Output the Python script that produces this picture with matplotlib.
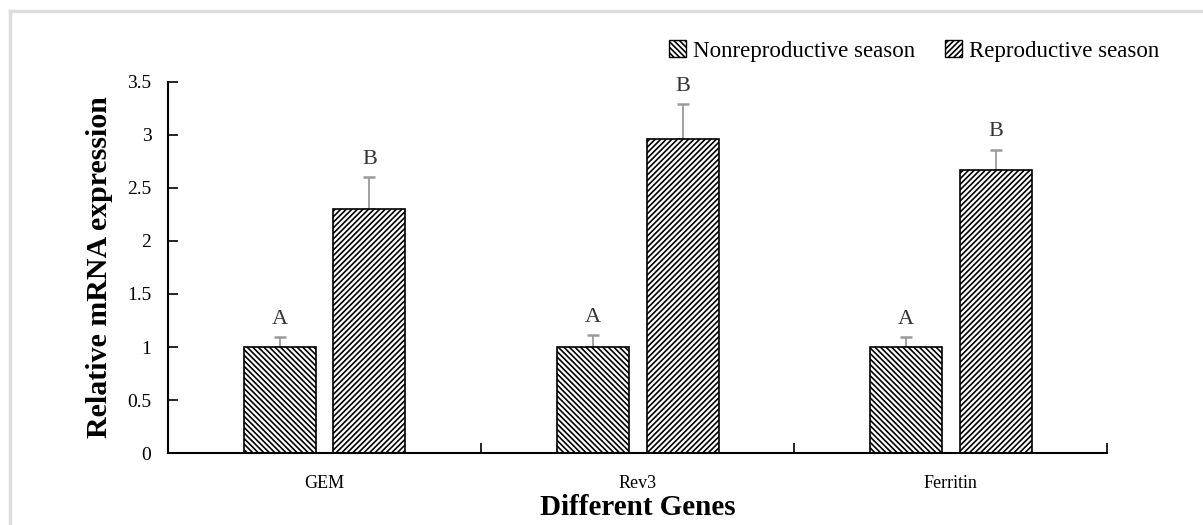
import numpy as np
import matplotlib
matplotlib.use('Agg')
import matplotlib.pyplot as plt
from matplotlib.patches import Patch
from matplotlib.lines import Line2D

plt.rcParams['font.family'] = ['Liberation Serif', 'DejaVu Serif']
plt.rcParams['hatch.linewidth'] = 1.2

# data
genes = ['GEM', 'Rev3', 'Ferritin']
series_names = ['Nonreproductive season', 'Reproductive season']
non_vals = [1.0, 1.0, 1.0]
non_err = [0.09, 0.11, 0.09]
rep_vals = [2.30, 2.96, 2.67]
rep_err = [0.30, 0.33, 0.19]
non_letters = ['A', 'A', 'A']
rep_letters = ['B', 'B', 'B']
yticks = [0, 0.5, 1, 1.5, 2, 2.5, 3, 3.5]
ytick_labels = ['0', '0.5', '1', '1.5', '2', '2.5', '3', '3.5']

fig = plt.figure(figsize=(12.03, 5.25), dpi=100)
ax = fig.add_axes([0.1397, 0.137, 0.7809, 0.707])

x = np.arange(len(genes))
w = 0.23
off = 0.143
hatch_non = '\\' * 6
hatch_rep = '/' * 6

ax.bar(x - off, non_vals, w, color='white', edgecolor='black',
       hatch=hatch_non, linewidth=1.2, zorder=2)
ax.bar(x + off, rep_vals, w, color='white', edgecolor='black',
       hatch=hatch_rep, linewidth=1.2, zorder=2)

for xs, vals, errs in [(x - off, non_vals, non_err), (x + off, rep_vals, rep_err)]:
    ax.errorbar(xs, vals, yerr=[np.zeros(len(vals)), errs], fmt='none',
                ecolor='#9a9a9a', elinewidth=1.3, capsize=4, capthick=1.8, zorder=1)

for i in range(len(genes)):
    ax.text(x[i] - off, non_vals[i] + non_err[i] + 0.08, non_letters[i],
            ha='center', va='bottom', fontsize=16, color='#333333')
    ax.text(x[i] + off, rep_vals[i] + rep_err[i] + 0.08, rep_letters[i],
            ha='center', va='bottom', fontsize=16, color='#333333')

ax.set_xlim(-0.5, len(genes) - 0.5)
ax.set_ylim(0, 3.5)
ax.set_yticks(yticks)
ax.set_yticklabels(ytick_labels, fontsize=14)
ax.set_xticks(x)
ax.set_xticklabels(genes, fontsize=13)
ax.set_xticks(np.arange(len(genes) + 1) - 0.5, minor=True)
ax.tick_params(axis='x', which='major', length=0, pad=16)
ax.tick_params(axis='x', which='minor', direction='in', length=7, width=1.2)
ax.tick_params(axis='y', direction='in', length=7, width=1.2, pad=12)

for s in ['top', 'right']:
    ax.spines[s].set_visible(False)
for s in ['left', 'bottom']:
    ax.spines[s].set_linewidth(1.5)

ax.set_ylabel('Relative mRNA expression', fontsize=21.5, fontweight='bold', labelpad=10)
ax.set_xlabel('Different Genes', fontsize=21, fontweight='bold', labelpad=1)

handles = [Patch(facecolor='white', edgecolor='black', hatch=hatch_non),
           Patch(facecolor='white', edgecolor='black', hatch=hatch_rep)]
ax.legend(handles, series_names, loc='lower right', bbox_to_anchor=(1.065, 1.03),
          ncol=2, frameon=False, fontsize=16.5, handlelength=0.75, handleheight=0.75,
          handletextpad=0.3, columnspacing=1.3, borderaxespad=0)

# light frame of the original image
fig.add_artist(Line2D([0.008, 1.0], [0.979, 0.979], color='#dddddd', lw=2.5))
fig.add_artist(Line2D([0.008, 0.008], [0.0, 0.979], color='#dddddd', lw=2.5))

fig.savefig('out.png', dpi=100)
